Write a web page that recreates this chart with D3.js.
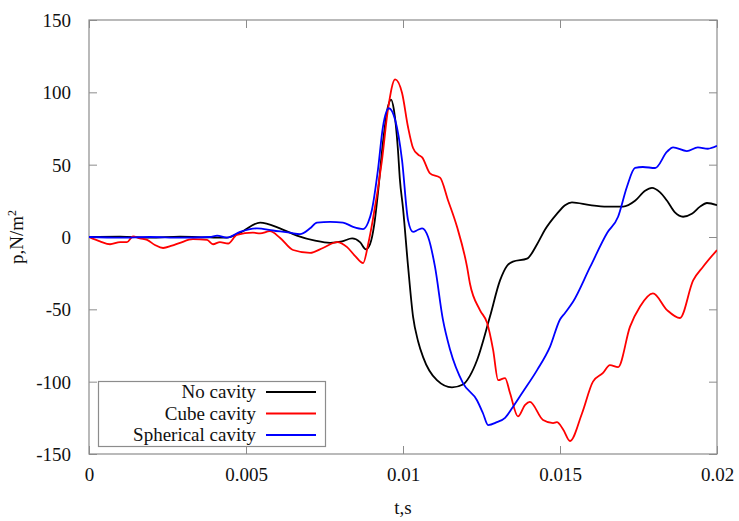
<!DOCTYPE html>
<html><head><meta charset="utf-8">
<script src="https://cdn.jsdelivr.net/npm/d3@7"></script>
<style>body{margin:0;background:#fff}svg{display:block}
svg text{font-family:"Liberation Serif","Times New Roman","DejaVu Serif",serif !important;}
</style>
</head><body>
<div id="chart"></div>
<script>
// time values in milliseconds (converted to seconds below), pressure in N/m^2
const xTicks = [0, 0.005, 0.01, 0.015, 0.02];
const yTicks = [-150, -100, -50, 0, 50, 100, 150];
const seriesNames = ["No cavity", "Cube cavity", "Spherical cavity"];
const seriesColors = ["#000000", "#ff0000", "#0000ff"];

const noCavityT = [0,0.99,1.94,2.90,3.85,4.39,4.81,5.45,6.08,6.62,7.20,7.68,8.06,8.38,8.63,8.82,8.95,9.08,9.20,9.36,9.52,9.62,9.71,9.84,9.90,10.0,10.16,10.32,10.48,10.64,11.08,11.56,11.91,12.13,12.36,12.77,13.09,13.31,13.50,13.95,14.27,14.52,14.90,15.16,15.38,15.96,16.50,17.01,17.39,17.71,17.93,18.18,18.41,18.66,18.92,19.20,19.46,19.68,20.0];
const noCavityP = [0,0.3,-0.5,0.3,-0.3,-0.5,3,10,6,1,-2.5,-4,-3,-1,-3.5,-8.5,-5,8,30,65,90,95,88,60,40,20,-20,-55,-72,-83,-99,-104,-102,-96,-85,-55,-30,-20,-17,-15,-5,5,16,22,24,22,21,21,25,32,34,31,25,17,14,16,21,23.5,22];

const cubeT = [0,0.35,0.67,0.99,1.21,1.40,1.62,1.85,2.10,2.36,2.64,2.90,3.31,3.76,3.95,4.17,4.43,4.71,5.22,5.45,5.76,6.08,6.50,7.04,7.45,7.90,8.22,8.47,8.73,8.89,9.04,9.33,9.52,9.75,9.97,10.16,10.32,10.48,10.61,10.86,11.18,11.43,11.72,12.04,12.13,12.45,12.68,12.87,13.03,13.25,13.41,13.66,13.89,14.04,14.46,14.78,14.90,15.10,15.32,15.70,16.05,16.37,16.59,16.85,17.23,17.55,17.96,18.41,18.82,19.24,19.55,20.0];
const cubeP = [0,-3,-5,-3.5,-3.5,0.5,-1,-2,-5.5,-7.6,-6,-4,-1.5,-2,-5,-3.5,-4.5,1.4,3,2.5,4,-0.5,-9,-11,-7.6,-3.5,-7,-13,-18,-5,12,53,88,109,99.5,76,61.5,57,55,44,41,25.6,7,-20.7,-32,-50.5,-59.5,-78,-99,-97.5,-108,-124,-116,-114,-126.5,-128.6,-128,-133,-141,-122,-100,-94,-88.5,-90,-62,-48,-39,-50.5,-56,-30,-20.7,-9];

const sphereT = [0,0.99,1.94,2.90,3.85,4.08,4.39,4.81,5.35,5.86,6.40,6.72,7.04,7.26,7.68,8.09,8.41,8.73,8.89,9.01,9.20,9.36,9.55,9.75,9.97,10.16,10.32,10.48,10.61,10.80,11.02,11.27,11.50,11.91,12.36,12.55,12.71,12.99,13.25,13.50,13.82,14.27,14.68,15.00,15.16,15.41,15.96,16.50,16.85,17.13,17.39,17.64,18.03,18.41,18.60,19.04,19.39,19.71,20.0];
const sphereP = [0,-0.5,0,-0.5,0,1,-0.5,3.5,6,4.5,3,2,6,10,10.5,10,7,5.5,10,18.7,46,76,89,81,53,11.7,3.5,5,6,0,-20.7,-57,-78,-101,-113,-122,-130,-128,-125,-117.5,-107,-92,-76,-57,-52.5,-45,-20.7,2.8,14,34.6,47.7,48.4,47.7,59,62,59.4,62,61,63];

const seriesT = [noCavityT, cubeT, sphereT];
const seriesP = [noCavityP, cubeP, sphereP];

const W = 739, H = 521;
const m = {left: 89, right: 22, top: 20, bottom: 67};
const svg = d3.select("#chart").append("svg").attr("width", W).attr("height", H);

const x = d3.scaleLinear().domain([0, 0.02]).range([m.left, W - m.right]);
const y = d3.scaleLinear().domain([-150, 150]).range([H - m.bottom, m.top]);

const font = "Liberation Serif";
const frameColor = "#8c8c8c";
const tickLen = 8;

// axes (inward ticks, mirrored)
const gx = svg.append("g").attr("transform", `translate(0,${y(-150)})`)
  .call(d3.axisBottom(x).tickValues(xTicks).tickSize(-tickLen).tickPadding(14).tickFormat(d => String(+d.toFixed(3))));
const gxt = svg.append("g").attr("transform", `translate(0,${y(150)})`)
  .call(d3.axisTop(x).tickValues(xTicks).tickSize(-tickLen).tickFormat(""));
const gy = svg.append("g").attr("transform", `translate(${x(0)},0)`)
  .call(d3.axisLeft(y).tickValues(yTicks).tickSize(-tickLen).tickPadding(18).tickFormat(d => String(d)));
const gyr = svg.append("g").attr("transform", `translate(${x(0.02)},0)`)
  .call(d3.axisRight(y).tickValues(yTicks).tickSize(-tickLen).tickFormat(""));
[gx, gxt, gy, gyr].forEach(g => {
  g.attr("font-family", null);
  g.select(".domain").remove();
  g.selectAll(".tick line").attr("stroke", frameColor).attr("stroke-width", 1);
  g.selectAll("text").attr("font-family", font).attr("font-size", 19).attr("fill", "#111");
});
gy.selectAll("text").attr("dy", "0.34em");

svg.append("rect").attr("x", x(0)).attr("y", y(150))
  .attr("width", x(0.02) - x(0)).attr("height", y(-150) - y(150))
  .attr("fill", "none").attr("stroke", frameColor).attr("stroke-width", 1.2);

// lines
const line = d3.line().x(d => x(d[0] / 1000)).y(d => y(d[1])).curve(d3.curveMonotoneX);
svg.append("clipPath").attr("id", "clip").append("rect")
  .attr("x", x(0)).attr("y", y(150)).attr("width", x(0.02) - x(0)).attr("height", y(-150) - y(150));
[0, 1, 2].forEach(i => {
  const pts = seriesT[i].map((t, j) => [t, seriesP[i][j]]);
  svg.append("path").datum(pts).attr("d", line).attr("fill", "none")
    .attr("stroke", seriesColors[i]).attr("stroke-width", 1.8).attr("clip-path", "url(#clip)");
});

// legend
const lg = svg.append("g");
lg.append("rect").attr("x", 98.5).attr("y", 381.5).attr("width", 227).attr("height", 65)
  .attr("fill", "#fff").attr("stroke", frameColor).attr("stroke-width", 1.2);
seriesNames.forEach((n, i) => {
  const yy = 392 + i * 21.5;
  lg.append("text").attr("x", 256).attr("y", yy).attr("dy", "0.34em").attr("text-anchor", "end")
    .attr("font-family", font).attr("font-size", 19).attr("fill", "#111").text(n);
  lg.append("line").attr("x1", 266).attr("x2", 316).attr("y1", yy).attr("y2", yy)
    .attr("stroke", seriesColors[i]).attr("stroke-width", 1.8);
});

// axis titles
svg.append("text").attr("x", (x(0) + x(0.02)) / 2).attr("y", 514).attr("text-anchor", "middle")
  .attr("font-family", font).attr("font-size", 19).attr("fill", "#111").text("t,s");
const yt = svg.append("text").attr("transform", `translate(23,${y(0)}) rotate(-90)`)
  .attr("text-anchor", "middle").attr("font-family", font).attr("font-size", 19).attr("fill", "#111");
yt.append("tspan").text("p,N/m");
yt.append("tspan").attr("font-size", 12).attr("dy", "-0.6em").text("2");
</script>
</body></html>
